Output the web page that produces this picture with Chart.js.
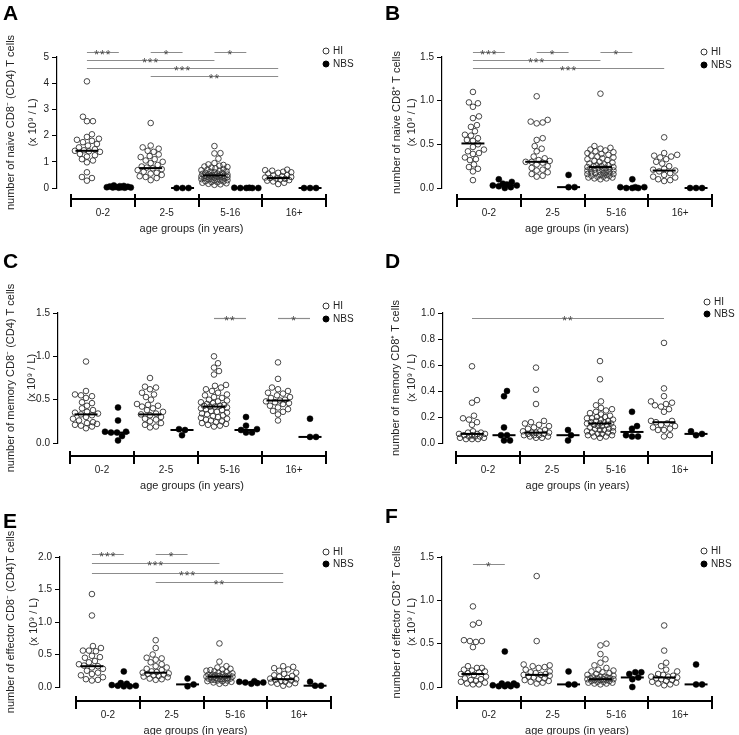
<!DOCTYPE html>
<html>
<head>
<meta charset="utf-8">
<script src="https://cdn.jsdelivr.net/npm/chart.js@4.4.1/dist/chart.umd.min.js"></script>
<style>
  html, body { margin: 0; padding: 0; background: #fff; }
  #fig { position: relative; width: 739px; height: 735px; overflow: hidden; background: #fff; }
  #fig canvas { position: absolute; }
</style>
</head>
<body>
<div id="fig"></div>
<script>
// categories
const ageGroups = ['0-2', '2-5', '5-16', '16+'];
const seriesNames = ['HI', 'NBS'];

// A: naive CD8- (CD4) T cells
const naiveCD4HI = [
  [4.07, 2.72, 2.55, 2.55, 2.05, 1.95, 1.88, 1.84, 1.8, 1.75, 1.68, 1.62, 1.55, 1.48, 1.44, 1.42, 1.4, 1.38, 1.3, 1.25, 1.2, 1.1, 1.05, 0.98, 0.6, 0.42, 0.38, 0.28],
  [2.48, 1.62, 1.55, 1.5, 1.42, 1.38, 1.28, 1.22, 1.18, 1.1, 1.05, 1.0, 0.95, 0.88, 0.82, 0.78, 0.75, 0.72, 0.68, 0.62, 0.58, 0.55, 0.5, 0.45, 0.42, 0.38, 0.3],
  [1.6, 1.33, 1.32, 1.12, 0.95, 0.9, 0.88, 0.85, 0.82, 0.8, 0.78, 0.75, 0.72, 0.7, 0.68, 0.66, 0.64, 0.62, 0.6, 0.58, 0.57, 0.55, 0.54, 0.52, 0.51, 0.5, 0.49, 0.48, 0.47, 0.47, 0.46, 0.45, 0.44, 0.43, 0.42, 0.41, 0.4, 0.38, 0.37, 0.36, 0.35, 0.34, 0.32, 0.3, 0.29, 0.28, 0.26, 0.25, 0.23, 0.22, 0.2, 0.18, 0.16, 0.14, 0.12],
  [0.7, 0.68, 0.66, 0.62, 0.6, 0.58, 0.55, 0.5, 0.48, 0.45, 0.42, 0.4, 0.38, 0.36, 0.35, 0.33, 0.3, 0.28, 0.25, 0.2, 0.15]
];
const naiveCD4NBS = [
  [0.1, 0.08, 0.07, 0.06, 0.05, 0.04, 0.03, 0.03, 0.02, 0.02, 0.01, 0.01],
  [0, 0, 0],
  [0.01, 0.01, 0, 0, 0, 0],
  [0, 0, 0]
];
const naiveCD4MedHI = [1.42, 0.76, 0.48, 0.38];
const naiveCD4MedNBS = [0.02, 0, 0, 0];
const naiveCD4Ticks = [0, 1, 2, 3, 4, 5];
// [group, series, group, series, label]
const naiveCD4Sig = [[0, 0, 0, 1, '***'], [1, 0, 1, 1, '*'], [2, 0, 2, 1, '*'], [0, 0, 2, 0, '***'], [0, 0, 3, 0, '***'], [1, 0, 3, 0, '**']];

// B: naive CD8+ T cells
const naiveCD8HI = [
  [1.1, 0.98, 0.97, 0.93, 0.82, 0.8, 0.72, 0.7, 0.65, 0.61, 0.6, 0.57, 0.55, 0.54, 0.5, 0.47, 0.44, 0.42, 0.4, 0.39, 0.35, 0.33, 0.32, 0.27, 0.24, 0.22, 0.19, 0.09],
  [1.05, 0.78, 0.76, 0.75, 0.74, 0.57, 0.55, 0.48, 0.45, 0.42, 0.36, 0.34, 0.32, 0.31, 0.3, 0.3, 0.29, 0.27, 0.25, 0.23, 0.21, 0.2, 0.18, 0.16, 0.14, 0.13],
  [1.08, 0.48, 0.46, 0.45, 0.44, 0.43, 0.42, 0.41, 0.4, 0.39, 0.38, 0.37, 0.36, 0.35, 0.34, 0.33, 0.32, 0.31, 0.3, 0.29, 0.28, 0.27, 0.26, 0.26, 0.25, 0.25, 0.24, 0.24, 0.23, 0.23, 0.22, 0.22, 0.21, 0.21, 0.2, 0.2, 0.19, 0.19, 0.18, 0.18, 0.17, 0.17, 0.16, 0.16, 0.15, 0.15, 0.14, 0.14, 0.13, 0.13, 0.12, 0.12, 0.11, 0.11, 0.1],
  [0.58, 0.4, 0.38, 0.37, 0.36, 0.35, 0.33, 0.3, 0.28, 0.25, 0.22, 0.21, 0.2, 0.19, 0.17, 0.15, 0.13, 0.12, 0.1, 0.09, 0.08]
];
const naiveCD8NBS = [
  [0.1, 0.07, 0.05, 0.04, 0.03, 0.03, 0.02, 0.01, 0.0],
  [0.15, 0.01, 0.01],
  [0.1, 0.01, 0.01, 0.01, 0.0, 0.0, 0.0],
  [0, 0, 0]
];
const naiveCD8MedHI = [0.51, 0.30, 0.24, 0.20];
const naiveCD8MedNBS = [0.03, 0.01, 0.01, 0.0];
const naiveCD8Ticks = [0, 0.5, 1.0, 1.5];
const naiveCD8Sig = [[0, 0, 0, 1, '***'], [1, 0, 1, 1, '*'], [2, 0, 2, 1, '*'], [0, 0, 2, 0, '***'], [0, 0, 3, 0, '***']];

// C: memory CD8- (CD4) T cells
const memoryCD4HI = [
  [0.94, 0.6, 0.56, 0.55, 0.54, 0.52, 0.47, 0.46, 0.43, 0.4, 0.38, 0.36, 0.35, 0.34, 0.33, 0.32, 0.3, 0.28, 0.26, 0.24, 0.23, 0.22, 0.21, 0.2, 0.19, 0.17],
  [0.75, 0.65, 0.64, 0.62, 0.58, 0.56, 0.53, 0.5, 0.45, 0.44, 0.43, 0.42, 0.4, 0.38, 0.36, 0.34, 0.33, 0.32, 0.3, 0.28, 0.27, 0.25, 0.23, 0.21, 0.19, 0.18],
  [1.0, 0.92, 0.87, 0.83, 0.79, 0.67, 0.66, 0.64, 0.62, 0.6, 0.58, 0.56, 0.55, 0.53, 0.52, 0.5, 0.49, 0.48, 0.47, 0.46, 0.45, 0.44, 0.43, 0.43, 0.42, 0.42, 0.41, 0.4, 0.39, 0.38, 0.37, 0.36, 0.35, 0.34, 0.33, 0.32, 0.31, 0.3, 0.29, 0.28, 0.27, 0.26, 0.25, 0.24, 0.23, 0.22, 0.21, 0.2, 0.19],
  [0.93, 0.74, 0.64, 0.62, 0.6, 0.58, 0.57, 0.55, 0.53, 0.52, 0.5, 0.49, 0.48, 0.47, 0.46, 0.45, 0.43, 0.41, 0.39, 0.37, 0.36, 0.33, 0.26]
];
const memoryCD4NBS = [
  [0.41, 0.26, 0.13, 0.13, 0.12, 0.12, 0.08, 0.03],
  [0.16, 0.15, 0.09],
  [0.3, 0.2, 0.16, 0.15, 0.12, 0.12],
  [0.28, 0.07, 0.07]
];
const memoryCD4MedHI = [0.33, 0.33, 0.42, 0.49];
const memoryCD4MedNBS = [0.12, 0.15, 0.15, 0.07];
const memoryCD4Ticks = [0, 0.5, 1.0, 1.5];
const memoryCD4Sig = [[2, 0, 2, 1, '**'], [3, 0, 3, 1, '*']];

// D: memory CD8+ T cells
const memoryCD8HI = [
  [0.59, 0.33, 0.31, 0.21, 0.19, 0.18, 0.16, 0.14, 0.09, 0.08, 0.08, 0.07, 0.07, 0.07, 0.06, 0.06, 0.05, 0.05, 0.05, 0.04, 0.04, 0.03, 0.03, 0.03],
  [0.58, 0.41, 0.3, 0.17, 0.16, 0.15, 0.14, 0.13, 0.12, 0.11, 0.1, 0.09, 0.09, 0.08, 0.08, 0.08, 0.07, 0.07, 0.06, 0.06, 0.06, 0.05, 0.05, 0.04, 0.04],
  [0.63, 0.49, 0.32, 0.29, 0.27, 0.26, 0.25, 0.24, 0.23, 0.22, 0.21, 0.2, 0.2, 0.19, 0.19, 0.18, 0.18, 0.17, 0.17, 0.16, 0.16, 0.15, 0.15, 0.15, 0.14, 0.14, 0.13, 0.13, 0.12, 0.12, 0.11, 0.11, 0.1, 0.1, 0.09, 0.09, 0.08, 0.08, 0.07, 0.07, 0.06, 0.06, 0.05, 0.05, 0.04],
  [0.77, 0.42, 0.36, 0.32, 0.31, 0.3, 0.29, 0.28, 0.26, 0.24, 0.17, 0.17, 0.16, 0.15, 0.14, 0.13, 0.12, 0.11, 0.1, 0.1, 0.06, 0.05]
];
const memoryCD8NBS = [
  [0.4, 0.36, 0.12, 0.06, 0.06, 0.02, 0.02],
  [0.1, 0.06, 0.02],
  [0.24, 0.13, 0.11, 0.06, 0.05, 0.05],
  [0.09, 0.07, 0.06]
];
const memoryCD8MedHI = [0.07, 0.08, 0.15, 0.16];
const memoryCD8MedNBS = [0.06, 0.06, 0.085, 0.07];
const memoryCD8Ticks = [0, 0.2, 0.4, 0.6, 0.8, 1.0];
const memoryCD8Sig = [[0, 0, 3, 0, '**']];

// E: effector CD8- (CD4) T cells
const effectorCD4HI = [
  [1.43, 1.1, 0.63, 0.6, 0.56, 0.56, 0.55, 0.48, 0.46, 0.45, 0.4, 0.38, 0.35, 0.33, 0.32, 0.3, 0.28, 0.25, 0.22, 0.2, 0.18, 0.15, 0.12, 0.11, 0.1],
  [0.72, 0.6, 0.5, 0.45, 0.44, 0.42, 0.38, 0.35, 0.32, 0.3, 0.28, 0.26, 0.24, 0.23, 0.22, 0.21, 0.2, 0.19, 0.18, 0.17, 0.16, 0.15, 0.13, 0.12, 0.11],
  [0.67, 0.39, 0.32, 0.3, 0.28, 0.27, 0.26, 0.25, 0.24, 0.23, 0.22, 0.21, 0.2, 0.19, 0.19, 0.18, 0.18, 0.17, 0.17, 0.16, 0.16, 0.16, 0.15, 0.15, 0.14, 0.14, 0.13, 0.13, 0.12, 0.12, 0.11, 0.11, 0.1, 0.1, 0.09, 0.09, 0.08, 0.07, 0.06, 0.05],
  [0.32, 0.31, 0.29, 0.27, 0.25, 0.22, 0.2, 0.18, 0.17, 0.16, 0.14, 0.13, 0.12, 0.11, 0.1, 0.09, 0.08, 0.07, 0.06, 0.05, 0.04, 0.02]
];
const effectorCD4NBS = [
  [0.24, 0.06, 0.05, 0.03, 0.02, 0.02, 0.01, 0.01],
  [0.13, 0.04, 0.01],
  [0.09, 0.08, 0.07, 0.07, 0.06, 0.05],
  [0.08, 0.02, 0.02]
];
const effectorCD4MedHI = [0.32, 0.22, 0.16, 0.12];
const effectorCD4MedNBS = [0.02, 0.04, 0.07, 0.02];
const effectorCD4Ticks = [0, 0.5, 1.0, 1.5, 2.0];
const effectorCD4Sig = [[0, 0, 0, 1, '***'], [1, 0, 1, 1, '*'], [0, 0, 2, 0, '***'], [0, 0, 3, 0, '***'], [1, 0, 3, 0, '**']];

// F: effector CD8+ T cells
const effectorCD8HI = [
  [0.93, 0.74, 0.72, 0.54, 0.53, 0.53, 0.52, 0.46, 0.24, 0.22, 0.22, 0.2, 0.19, 0.18, 0.17, 0.16, 0.15, 0.14, 0.12, 0.1, 0.09, 0.08, 0.07, 0.06, 0.05, 0.04, 0.03, 0.03],
  [1.28, 0.53, 0.26, 0.25, 0.24, 0.23, 0.22, 0.2, 0.18, 0.17, 0.16, 0.15, 0.14, 0.14, 0.13, 0.12, 0.11, 0.1, 0.09, 0.08, 0.07, 0.06, 0.05, 0.04],
  [0.5, 0.48, 0.38, 0.32, 0.28, 0.25, 0.22, 0.2, 0.19, 0.18, 0.17, 0.16, 0.15, 0.14, 0.13, 0.12, 0.12, 0.11, 0.11, 0.1, 0.1, 0.1, 0.09, 0.09, 0.09, 0.08, 0.08, 0.08, 0.07, 0.07, 0.06, 0.06, 0.05, 0.05, 0.04, 0.04, 0.03],
  [0.71, 0.42, 0.28, 0.24, 0.2, 0.18, 0.15, 0.14, 0.13, 0.12, 0.12, 0.11, 0.1, 0.09, 0.08, 0.07, 0.06, 0.05, 0.04, 0.03, 0.02]
];
const effectorCD8NBS = [
  [0.41, 0.04, 0.04, 0.03, 0.02, 0.02, 0.01, 0.01, 0.01],
  [0.18, 0.03, 0.03],
  [0.17, 0.17, 0.15, 0.11, 0.09, 0.0],
  [0.26, 0.03, 0.03]
];
const effectorCD8MedHI = [0.15, 0.14, 0.09, 0.11];
const effectorCD8MedNBS = [0.02, 0.03, 0.11, 0.03];
const effectorCD8Ticks = [0, 0.5, 1.0, 1.5];
const effectorCD8Sig = [[0, 0, 0, 1, '*']];

const xTitle = 'age groups (in years)';
const FONT = '"Liberation Sans", Arial, Helvetica, sans-serif';
Chart.defaults.font.family = FONT;
Chart.defaults.color = '#222';

// page layout of each panel (pixels)
const panels = [
  { letter: 'A', left: 0, top: 0, width: 370, yAxisX: 57, xStart: 71, xEnd: 326, yTopPx: 57, yZeroPx: 188, axisY: 199,
    titleX: 11, titleGap: 22, letterX: 3, letterY: 20, legendX: 326, legendY: 51, legendGap: 13, sigY: 52, sigGap: 8,
    yTitle: ['number of naive CD8\u207B (CD4) T cells', '(x 10\u2079 / L)'], ticks: naiveCD4Ticks, dec: 0,
    hi: naiveCD4HI, nbs: naiveCD4NBS, medHI: naiveCD4MedHI, medNBS: naiveCD4MedNBS, sig: naiveCD4Sig },
  { letter: 'B', left: 370, top: 0, width: 369, yAxisX: 442, xStart: 457, xEnd: 712, yTopPx: 57, yZeroPx: 188, axisY: 199,
    titleX: 397, titleGap: 15, letterX: 385, letterY: 20, legendX: 704, legendY: 52, legendGap: 13, sigY: 52, sigGap: 8,
    yTitle: ['number of naive CD8\u207A T cells', '(x 10\u2079 / L)'], ticks: naiveCD8Ticks, dec: 1,
    hi: naiveCD8HI, nbs: naiveCD8NBS, medHI: naiveCD8MedHI, medNBS: naiveCD8MedNBS, sig: naiveCD8Sig },
  { letter: 'C', left: 0, top: 245, width: 370, yAxisX: 58, xStart: 70, xEnd: 326, yTopPx: 313, yZeroPx: 443, axisY: 456,
    titleX: 11, titleGap: 21, letterX: 3, letterY: 268, legendX: 326, legendY: 306, legendGap: 13, sigY: 318, sigGap: 8,
    yTitle: ['number of memory CD8\u207B (CD4) T cells', '(x 10\u2079 / L)'], ticks: memoryCD4Ticks, dec: 1,
    hi: memoryCD4HI, nbs: memoryCD4NBS, medHI: memoryCD4MedHI, medNBS: memoryCD4MedNBS, sig: memoryCD4Sig },
  { letter: 'D', left: 370, top: 245, width: 369, yAxisX: 443, xStart: 456, xEnd: 712, yTopPx: 313, yZeroPx: 443, axisY: 456,
    titleX: 396, titleGap: 16, letterX: 385, letterY: 268, legendX: 707, legendY: 302, legendGap: 12, sigY: 318, sigGap: 8,
    yTitle: ['number of memory CD8\u207A T cells', '(x 10\u2079 / L)'], ticks: memoryCD8Ticks, dec: 1,
    hi: memoryCD8HI, nbs: memoryCD8NBS, medHI: memoryCD8MedHI, medNBS: memoryCD8MedNBS, sig: memoryCD8Sig },
  { letter: 'E', left: 0, top: 490, width: 370, yAxisX: 60, xStart: 76, xEnd: 331, yTopPx: 557, yZeroPx: 687, axisY: 701,
    titleX: 11, titleGap: 23, letterX: 3, letterY: 528, legendX: 326, legendY: 552, legendGap: 12, sigY: 554, sigGap: 9.3,
    yTitle: ['number of effector CD8\u207B (CD4)T cells', '(x 10\u2079 / L)'], ticks: effectorCD4Ticks, dec: 1,
    hi: effectorCD4HI, nbs: effectorCD4NBS, medHI: effectorCD4MedHI, medNBS: effectorCD4MedNBS, sig: effectorCD4Sig },
  { letter: 'F', left: 370, top: 490, width: 369, yAxisX: 442, xStart: 457, xEnd: 712, yTopPx: 557, yZeroPx: 687, axisY: 701,
    titleX: 397, titleGap: 15, letterX: 385, letterY: 523, legendX: 704, legendY: 551, legendGap: 13, sigY: 564, sigGap: 8,
    yTitle: ['number of effector CD8\u207A T cells', '(x 10\u2079 / L)'], ticks: effectorCD8Ticks, dec: 1,
    hi: effectorCD8HI, nbs: effectorCD8NBS, medHI: effectorCD8MedHI, medNBS: effectorCD8MedNBS, sig: effectorCD8Sig }
];

const seriesX = (g, s) => g + 0.25 + 0.5 * s;

// simple beeswarm in pixel space
function swarm(py, cx, minD, maxOff) {
  const order = py.map((_, i) => i).sort((a, b) => py[b] - py[a]);
  const placed = [];
  const out = new Array(py.length);
  order.forEach(i => {
    let best = 0, bestD = -1;
    for (let k = 0; k <= maxOff * 2; k++) {
      const off = (k % 2 ? 1 : -1) * Math.ceil(k / 2);
      let md = Infinity;
      placed.forEach(p => { const d = Math.hypot(p.x - (cx + off), p.y - py[i]); if (d < md) md = d; });
      if (md >= minD) { best = off; bestD = md; break; }
      if (md > bestD) { bestD = md; best = off; }
    }
    out[i] = cx + best;
    placed.push({ x: cx + best, y: py[i] });
  });
  return out;
}

// group axis, significance bars, legend and panel letter
function decoPlugin(p) {
  return {
    id: 'deco' + p.letter,
    afterDraw(chart) {
      const ctx = chart.ctx, sx = chart.scales.x;
      const ox = p.left, oy = p.top;
      ctx.save();
      const ay = p.axisY - oy;
      ctx.strokeStyle = '#000';
      ctx.lineWidth = 2;
      ctx.beginPath();
      ctx.moveTo(sx.getPixelForValue(0) - 1, ay);
      ctx.lineTo(sx.getPixelForValue(ageGroups.length) + 1, ay);
      for (let g = 0; g <= ageGroups.length; g++) {
        const x = Math.round(sx.getPixelForValue(g));
        ctx.moveTo(x, ay - 5);
        ctx.lineTo(x, ay + 8);
      }
      ctx.stroke();

      // significance bars, packed into rows
      const rows = [];
      ctx.font = '12px ' + FONT;
      ctx.letterSpacing = '1px';
      ctx.textAlign = 'center';
      ctx.textBaseline = 'alphabetic';
      p.sig.forEach(([g1, s1, g2, s2, lab]) => {
        const a = seriesX(g1, s1), b = seriesX(g2, s2);
        let r = 0;
        while (rows[r] && rows[r].some(([u, v]) => a < v && u < b)) r++;
        (rows[r] = rows[r] || []).push([a, b]);
        const y = Math.round(p.sigY - oy + r * p.sigGap) + 0.5;
        const x1 = sx.getPixelForValue(a), x2 = sx.getPixelForValue(b);
        ctx.strokeStyle = '#8c8c8c';
        ctx.lineWidth = 1.2;
        ctx.beginPath();
        ctx.moveTo(x1, y);
        ctx.lineTo(x2, y);
        ctx.stroke();
        ctx.fillStyle = '#444';
        ctx.fillText(lab, (x1 + x2) / 2, y + 6);
      });
      ctx.letterSpacing = '0px';

      // legend
      ctx.font = '10px ' + FONT;
      ctx.textAlign = 'left';
      ctx.textBaseline = 'middle';
      seriesNames.forEach((name, s) => {
        const x = p.legendX - ox, y = p.legendY - oy + s * p.legendGap;
        ctx.beginPath();
        ctx.arc(x, y, 3, 0, Math.PI * 2);
        if (s === 1) { ctx.fillStyle = '#000'; ctx.fill(); }
        ctx.strokeStyle = s === 1 ? '#000' : '#333';
        ctx.lineWidth = 1;
        ctx.stroke();
        ctx.fillStyle = '#222';
        ctx.fillText(name, x + 7, y + 0.5);
      });

      // panel letter
      ctx.font = 'bold 21px ' + FONT;
      ctx.textBaseline = 'alphabetic';
      ctx.fillStyle = '#000';
      ctx.fillText(p.letter, p.letterX - ox, p.letterY - oy);
      ctx.restore();
    }
  };
}

function makePanel(p) {
  const canvas = document.createElement('canvas');
  const h = p.axisY + 38 - p.top;
  canvas.width = p.width;
  canvas.height = h;
  canvas.style.left = p.left + 'px';
  canvas.style.top = p.top + 'px';
  canvas.style.width = p.width + 'px';
  canvas.style.height = h + 'px';
  document.getElementById('fig').appendChild(canvas);

  const gw = (p.xEnd - p.xStart) / ageGroups.length;
  const xMin = -(p.xStart - p.yAxisX) / gw;
  const yMin = p.ticks[0], yMax = p.ticks[p.ticks.length - 1];

  const flat = groups => groups.flatMap((vals, g) => vals.map(v => ({ g, v })));
  const pointSet = (groups, s) => flat(groups).map(({ g, v }) => ({ x: seriesX(g, s), y: v }));

  const datasets = [
    { label: 'HI', data: pointSet(p.hi, 0), pointRadius: 2.8, pointBackgroundColor: 'rgba(0,0,0,0)',
      pointBorderColor: '#333', pointBorderWidth: 0.9, showLine: false, clip: false, order: 2 },
    { label: 'NBS', data: pointSet(p.nbs, 1), pointRadius: 3, pointBackgroundColor: '#000',
      pointBorderColor: '#000', pointBorderWidth: 0.5, showLine: false, clip: false, order: 2 }
  ];
  [p.medHI, p.medNBS].forEach((meds, s) => {
    meds.forEach((m, g) => {
      const c = seriesX(g, s);
      datasets.push({ label: 'median', data: [{ x: c - 0.18, y: m }, { x: c + 0.18, y: m }],
        showLine: true, pointRadius: 0, borderColor: '#000', borderWidth: 2, clip: false, order: 0 });
    });
  });

  const chart = new Chart(canvas, {
    type: 'scatter',
    data: { datasets },
    options: {
      responsive: false,
      animation: false,
      devicePixelRatio: 1,
      events: [],
      layout: { padding: { top: p.yTopPx - p.top, right: p.left + p.width - p.xEnd, bottom: 0, left: 0 } },
      plugins: { legend: { display: false }, tooltip: { enabled: false } },
      scales: {
        x: {
          type: 'linear', min: xMin, max: ageGroups.length,
          afterBuildTicks: s => { s.ticks = ageGroups.map((_, i) => ({ value: i + 0.5 })); },
          afterFit: s => { s.height = h - (p.yZeroPx - p.top); },
          ticks: { callback: (v, i) => ageGroups[i], autoSkip: false, maxRotation: 0,
                   padding: p.axisY + 14.5 - p.yZeroPx - 6, font: { size: 10 }, color: '#222' },
          grid: { display: false, drawTicks: false },
          border: { display: false },
          title: { display: true, text: xTitle, font: { size: 11 }, color: '#222', padding: { top: 0, bottom: 1.4 } }
        },
        y: {
          type: 'linear', min: yMin, max: yMax,
          afterBuildTicks: s => { s.ticks = p.ticks.map(v => ({ value: v })); },
          afterFit: s => { s.width = p.yAxisX - p.left; },
          ticks: { callback: v => Number(v).toFixed(p.dec), padding: 3, font: { size: 10 }, color: '#222' },
          grid: { display: true, drawOnChartArea: false, drawTicks: true, tickLength: 5, color: '#000', lineWidth: 1 },
          border: { display: true, color: '#000', width: 1.2 },
          title: { display: true, text: p.yTitle, color: '#222',
                   font: { size: 11, lineHeight: p.titleGap / 11 },
                   padding: { top: p.titleX - p.left - p.titleGap / 2, bottom: 0 } }
        }
      }
    },
    plugins: [decoPlugin(p)]
  });

  // spread the points of each group sideways so they do not sit on top of each other
  const sx = chart.scales.x, sy = chart.scales.y;
  [p.hi, p.nbs].forEach((groups, s) => {
    const pts = [];
    groups.forEach((vals, g) => {
      const cx = sx.getPixelForValue(seriesX(g, s));
      const px = swarm(vals.map(v => sy.getPixelForValue(v)), cx, 5.6, 13);
      vals.forEach((v, i) => pts.push({ x: sx.getValueForPixel(px[i]), y: v }));
    });
    chart.data.datasets[s].data = pts;
  });
  chart.update('none');
}

panels.forEach(makePanel);
</script>
</body>
</html>
